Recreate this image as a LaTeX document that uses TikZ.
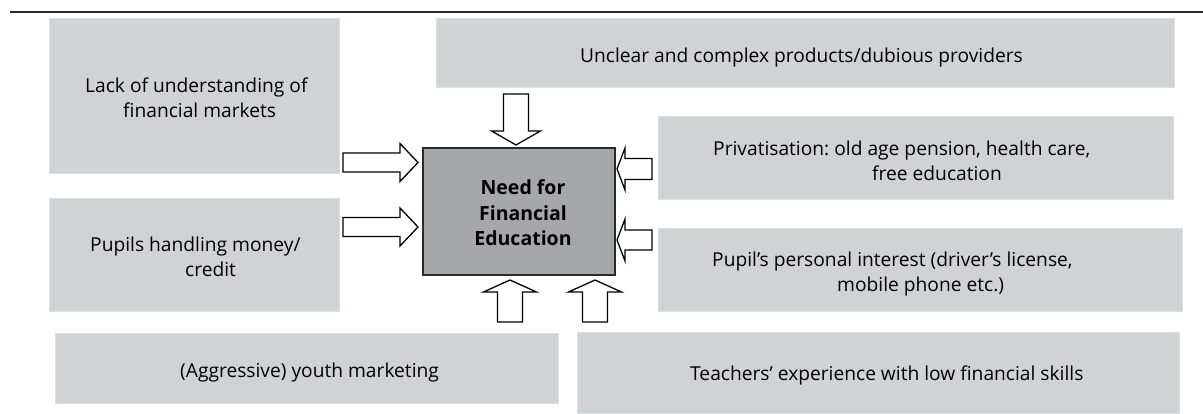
\documentclass[tikz,border=0pt]{standalone}
\usepackage{fontspec}
\setmainfont{Open Sans}
\frenchspacing
\definecolor{boxfill}{HTML}{D1D2D4}
\definecolor{boxedge}{HTML}{D3E4E9}
\definecolor{centfill}{HTML}{A6A7AA}
\definecolor{darkline}{HTML}{2B2B2B}
\newcommand{\blockarr}[6]{%
  \draw[barrow, shift={#1}, rotate=#2] (0,-#4) -- (#3-#6,-#4) -- (#3-#6,-#5) -- (#3,0) -- (#3-#6,#5) -- (#3-#6,#4) -- (0,#4) -- cycle;}
\newcommand{\lines}[1]{\begin{tabular}[t]{@{}l@{}}#1\end{tabular}}
\newcommand{\clines}[1]{\begin{tabular}[t]{@{}c@{}}#1\end{tabular}}
\begin{document}
\begin{tikzpicture}[x=1pt,y=-1pt,
  factor/.style={draw=boxedge, line width=1pt, fill=boxfill, inner sep=0pt},
  centre/.style={draw=darkline, line width=1.2pt, fill=centfill, inner sep=0pt},
  txt/.style={anchor=base west, inner sep=0pt, text=black,
     font=\fontsize{19.2}{24.5}\selectfont},
  ctxt/.style={anchor=base, inner sep=0pt, text=black,
     font=\fontsize{19.5}{25.5}\selectfont\bfseries},
  barrow/.style={draw=black, line width=1.3pt, fill=white, line join=miter}]
\useasboundingbox (0,0) rectangle (1203,414);
\draw[darkline, line width=1.6pt] (10,12) -- (1203,12);
% factor boxes
\node[factor, minimum width=290, minimum height=155] (lack) at (194,96.5) {};
\node[factor, minimum width=290, minimum height=113] (pupils) at (194,255.5) {};
\node[factor, minimum width=503, minimum height=70] (youth) at (306.5,368) {};
\node[factor, minimum width=738, minimum height=69] (unclear) at (805,53.5) {};
\node[factor, minimum width=515, minimum height=83] (priv) at (915.5,158.5) {};
\node[factor, minimum width=524, minimum height=83] (interest) at (920,270.5) {};
\node[factor, minimum width=602, minimum height=81] (teachers) at (878,372.5) {};
\node[centre, minimum width=192, minimum height=127] (need) at (519,211.5) {};
% texts
\node[txt] (lackT) at (85,93) {\lines{Lack of understanding of\\ \hspace*{38pt}financial markets}};
\node[txt] (pupilsT) at (90,252) {\lines{Pupils handling money/\\ \hspace*{95pt}credit}};
\node[txt] (youthT) at (180,377) {(Aggressive) youth marketing};
\node[txt] (unclearT) at (580,63) {Unclear and complex products/dubious providers};
\node[txt] (privT) at (713,156) {\lines{Privatisation: old age pension, health care,\\ \hspace*{159pt}free education}};
\node[txt] (interestT) at (712,267) {\lines{Pupil’s personal interest (driver’s license,\\ \hspace*{125pt}mobile phone etc.)}};
\node[txt] (teachersT) at (690,380) {Teachers’ experience with low financial skills};
\node[ctxt] (needT) at (523,195) {\clines{Need for\\Financial\\Education}};
% arrow tails
\coordinate (t1) at (343,162.5);
\coordinate (t2) at (343,227);
\coordinate (t3) at (652,169);
\coordinate (t4) at (652,240);
\coordinate (t5) at (516,94);
\coordinate (t6) at (510,322);
\coordinate (t7) at (595,322);
\blockarr{(t1)}{0}{75}{9.5}{19}{18}
\blockarr{(t2)}{0}{75}{9.5}{19}{18}
\blockarr{(t3)}{180}{35}{10.5}{21}{8}
\blockarr{(t4)}{180}{35}{10}{21}{8}
\blockarr{(t5)}{-90}{51}{12.5}{24.5}{14}
\blockarr{(t6)}{90}{42}{12.5}{26.5}{12}
\blockarr{(t7)}{90}{42}{12.5}{26.5}{12}
\end{tikzpicture}
\end{document}
